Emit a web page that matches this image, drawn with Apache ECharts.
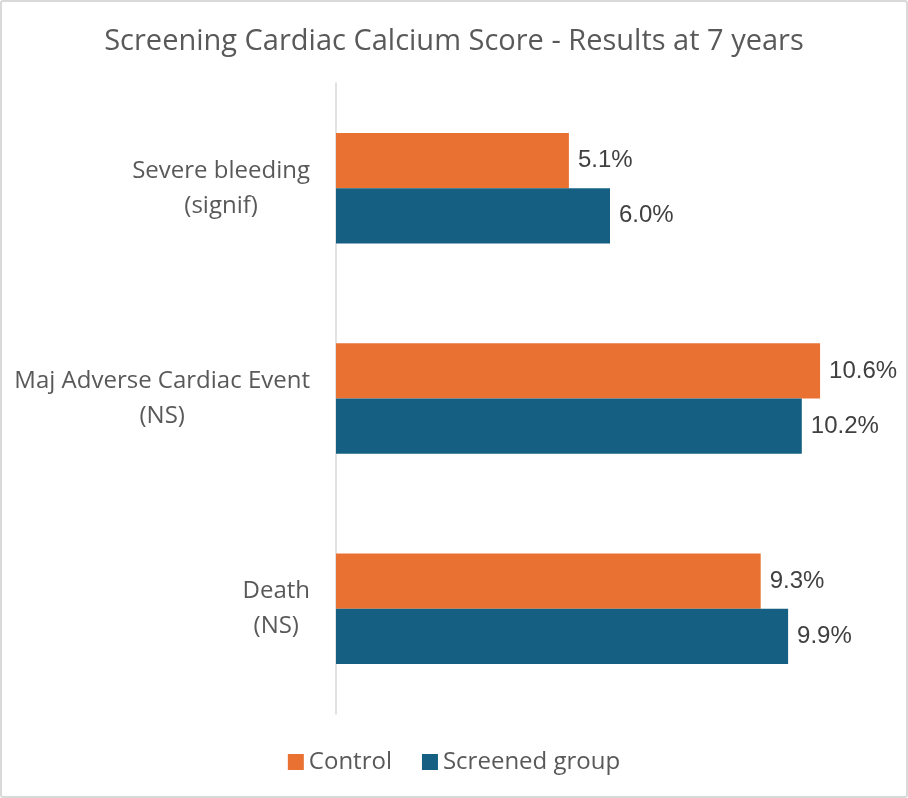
<!DOCTYPE html>
<html>
<head>
<meta charset="utf-8">
<script src="https://cdn.jsdelivr.net/npm/echarts@6/dist/echarts.min.js"></script>
<style>
html,body{margin:0;padding:0;background:#fff;}
#wrap{position:absolute;left:0;top:0;width:904px;height:794px;border:2px solid #d9d9d9;border-radius:3px;}
#chart{width:904px;height:794px;}
</style>
</head>
<body>
<div id="wrap"><div id="chart"></div></div>
<script>
const titleText = 'Screening Cardiac Calcium Score - Results at 7 years';
const categories = ['Severe bleeding\n(signif)', 'Maj Adverse Cardiac Event\n(NS)', 'Death\n(NS)'];
const seriesNames = ['Control', 'Screened group'];
const controlValues = [5.1, 10.6, 9.3];
const screenedValues = [6.0, 10.2, 9.9];
const colors = ['#E97132', '#156082'];

const FONT = '"Open Sans", sans-serif';
const chart = echarts.init(document.getElementById('chart'), null, {renderer: 'canvas'});
const labelCfg = {
  show: true, position: 'right', distance: 9,
  color: '#404040', fontSize: 24, fontFamily: '"Liberation Sans", Arial, sans-serif',
  formatter: p => p.value.toFixed(1) + '%'
};
chart.setOption({
  animation: false,
  title: {
    text: titleText, left: 'center', top: 20,
    textStyle: {color: '#595959', fontSize: 29, fontWeight: 'normal', fontFamily: FONT}
  },
  legend: {
    data: seriesNames, bottom: 17, left: 'center',
    itemWidth: 16, itemHeight: 16, itemGap: 30,
    icon: 'rect',
    textStyle: {color: '#595959', fontSize: 24, fontFamily: FONT}
  },
  grid: {left: 334, right: 22, top: 81, bottom: 82, containLabel: false},
  xAxis: {
    type: 'value', min: 0, max: 12,
    axisLabel: {show: false}, axisLine: {show: false}, axisTick: {show: false},
    splitLine: {show: false}
  },
  yAxis: {
    type: 'category', data: categories, inverse: true,
    axisLine: {show: true, lineStyle: {color: '#d9d9d9', width: 1.5}},
    axisTick: {show: false},
    axisLabel: {
      color: '#595959', fontSize: 24, fontFamily: FONT, margin: 26, lineHeight: 35,
      formatter: v => v.split('\n').map(s => '{c|' + s + '}').join('\n'),
      rich: {c: {align: 'center', color: '#595959', fontSize: 24, fontFamily: FONT, lineHeight: 35}}
    }
  },
  series: [
    {name: seriesNames[0], type: 'bar', data: controlValues, itemStyle: {color: colors[0]},
     barGap: '0%', barCategoryGap: '47.5%', label: labelCfg},
    {name: seriesNames[1], type: 'bar', data: screenedValues, itemStyle: {color: colors[1]},
     barGap: '0%', barCategoryGap: '47.5%', label: labelCfg}
  ]
});
</script>
</body>
</html>
